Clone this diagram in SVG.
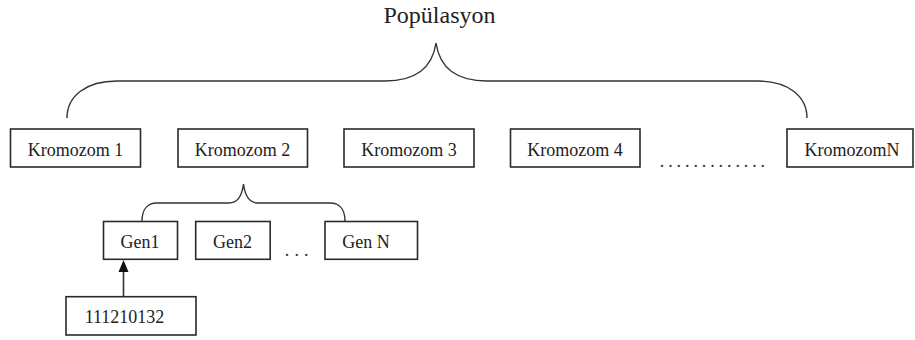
<svg xmlns="http://www.w3.org/2000/svg" width="915" height="340" viewBox="0 0 915 340">
  <style>
    .box { fill: #ffffff; stroke: #2a2a2a; stroke-width: 1.6; }
    .lbl { font-family: 'Liberation Serif', 'DejaVu Serif', serif; font-size: 18px; fill: #222; text-anchor: middle; }
    .dots { font-family: 'Liberation Serif', 'DejaVu Serif', serif; font-size: 18px; fill: #333; }
    .title { font-family: 'Liberation Serif', 'DejaVu Serif', serif; font-size: 24px; fill: #222; text-anchor: middle; }
    .brace { fill: none; stroke: #333; stroke-width: 1.4; }
    .arrow { fill: none; stroke: #333; stroke-width: 1.6; }
  </style>

  <g id="title">
    <text class="title" x="439.5" y="22.5">Popülasyon</text>
  </g>

  <g id="connectors">
    <path class="brace" d="M67,118 C67,96 86,81 117,81 L385,81 C414,81 432,70 436,43 C440,70 458,81 487,81 L757,81 C788,81 807,96 807,118"/>
    <path class="brace" d="M142,221 C142,210 147,203 157,203 L229,203 C238,203 242,196 243.5,184 C245,196 249,203 258,203 L330,203 C340,203 345,210 345,221"/>
    <line class="arrow" x1="123.5" y1="296.5" x2="123.5" y2="270" />
    <path d="M118.5,272 L123.5,260 L128.5,272 Z" fill="#111"/>
  </g>

  <g id="kromozom1">
    <rect class="box" x="10.5" y="129" width="130" height="38"/>
    <text class="lbl" x="75.5" y="155.5">Kromozom 1</text>
  </g>
  <g id="kromozom2">
    <rect class="box" x="178" y="129" width="129.5" height="38"/>
    <text class="lbl" x="242.5" y="155.5">Kromozom 2</text>
  </g>
  <g id="kromozom3">
    <rect class="box" x="344" y="129" width="130" height="38"/>
    <text class="lbl" x="409" y="155.5">Kromozom 3</text>
  </g>
  <g id="kromozom4">
    <rect class="box" x="510.5" y="129" width="129.5" height="38"/>
    <text class="lbl" x="575" y="155.5">Kromozom 4</text>
  </g>
  <g id="kromozom-dots">
    <text class="dots" x="659.8" y="166.5" letter-spacing="3.9">.............</text>
  </g>
  <g id="kromozomN">
    <rect class="box" x="787" y="129" width="126" height="38"/>
    <text class="lbl" x="852" y="155.5">KromozomN</text>
  </g>

  <g id="gen1">
    <rect class="box" x="103.5" y="221.5" width="74" height="37.8"/>
    <text class="lbl" x="140" y="248.3">Gen1</text>
  </g>
  <g id="gen2">
    <rect class="box" x="195.7" y="221.5" width="74.5" height="37.8"/>
    <text class="lbl" x="232.5" y="248.3">Gen2</text>
  </g>
  <g id="gen-dots">
    <text class="dots" x="284.7" y="255.5" letter-spacing="5.2">...</text>
  </g>
  <g id="genN">
    <rect class="box" x="325" y="221.5" width="92.5" height="37.8"/>
    <text class="lbl" x="366" y="248.3">Gen N</text>
  </g>

  <g id="value">
    <rect class="box" x="66" y="296.7" width="130" height="38.3"/>
    <text class="lbl" x="124.5" y="323.3">111210132</text>
  </g>
</svg>
